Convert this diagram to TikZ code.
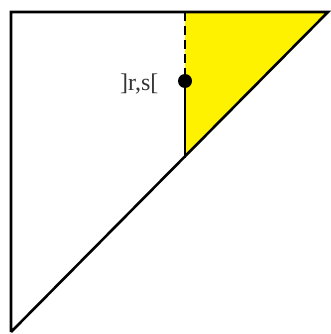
\documentclass[tikz,border=0pt]{standalone}
\usepackage{fontspec}
\setmainfont{Liberation Serif}
\usetikzlibrary{positioning}

\begin{document}
\begin{tikzpicture}[x=1pt, y=-1pt, line width=2.6pt, line join=miter]
\useasboundingbox (0,0) rectangle (331,334);
\coordinate (topleft) at (11,12);
\coordinate (topright) at (328,12);
\coordinate (bottomleft) at (11,332);
\coordinate (cut) at (185,12);
\coordinate (foot) at (185,158);
\coordinate (dot) at (185,81);
\fill[yellow] (cut) -- (topright) -- (foot) -- cycle;
\draw (bottomleft) -- (topleft) -- (topright) -- (bottomleft);
\draw[dashed, dash pattern=on 9pt off 5pt] (cut) -- (dot);
\draw (dot) -- (foot);
\fill (dot) circle (7pt);
\node[left=22pt of dot, yshift=-3pt, font=\fontsize{24}{28}\selectfont, text=black!80] (label) {]r,s[};
\end{tikzpicture}
\end{document}
